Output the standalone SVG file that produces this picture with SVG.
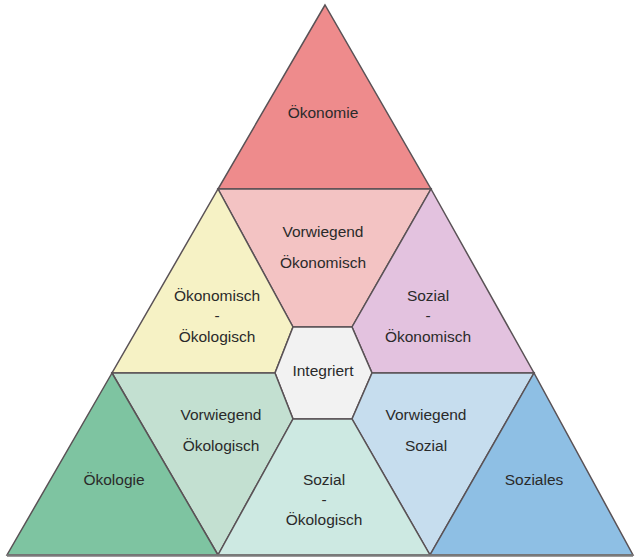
<svg xmlns="http://www.w3.org/2000/svg" width="635" height="558" viewBox="0 0 635 558">
<style>
.r{stroke:#5a5256;stroke-width:1.5;stroke-linejoin:miter}
.t{font-family:"Liberation Sans",Arial,sans-serif;font-size:15.5px;fill:#2a2a2a;text-anchor:middle}
</style>
<rect width="635" height="558" fill="#ffffff"/>
<g id="oekonomie"><polygon class="r" fill="#ee8b8c" points="325,5 218,189 431,189"/><text class="t" x="323" y="118">Ökonomie</text></g>
<g id="vorwiegend-oekonomisch"><polygon class="r" fill="#f3c3c3" points="218,189 431,189 352,327 293,327"/><text class="t" x="323" y="237">Vorwiegend</text><text class="t" x="323" y="268">Ökonomisch</text></g>
<g id="oekonomisch-oekologisch"><polygon class="r" fill="#f6f2c5" points="218,189 293,327 275,373 112,373"/><text class="t" x="217" y="301">Ökonomisch</text><text class="t" x="217" y="321">-</text><text class="t" x="217" y="342">Ökologisch</text></g>
<g id="sozial-oekonomisch"><polygon class="r" fill="#e3c2df" points="431,189 534,373 372,373 352,327"/><text class="t" x="428" y="301">Sozial</text><text class="t" x="428" y="321">-</text><text class="t" x="428" y="342">Ökonomisch</text></g>
<g id="integriert"><polygon class="r" fill="#f2f2f2" points="293,327 352,327 372,373 352,419 293,419 275,373"/><text class="t" x="323" y="376">Integriert</text></g>
<g id="vorwiegend-oekologisch"><polygon class="r" fill="#c3e0d1" points="112,373 275,373 293,419 218,555"/><text class="t" x="221" y="420">Vorwiegend</text><text class="t" x="221" y="451">Ökologisch</text></g>
<g id="vorwiegend-sozial"><polygon class="r" fill="#c6ddee" points="372,373 534,373 430,555 352,419"/><text class="t" x="426" y="420">Vorwiegend</text><text class="t" x="426" y="451">Sozial</text></g>
<g id="oekologie"><polygon class="r" fill="#7ec4a1" points="112,373 7,555 218,555"/><text class="t" x="114" y="485">Ökologie</text></g>
<g id="sozial-oekologisch"><polygon class="r" fill="#cde9e2" points="218,555 293,419 352,419 430,555"/><text class="t" x="324" y="485">Sozial</text><text class="t" x="324" y="505">-</text><text class="t" x="324" y="525">Ökologisch</text></g>
<g id="soziales"><polygon class="r" fill="#8ebfe4" points="534,373 430,555 633,555"/><text class="t" x="534" y="485">Soziales</text></g>
<g id="connectors"><line x1="7" y1="555.5" x2="633" y2="555.5" stroke="#7a7a7a" stroke-width="2.5"/></g>
</svg>
